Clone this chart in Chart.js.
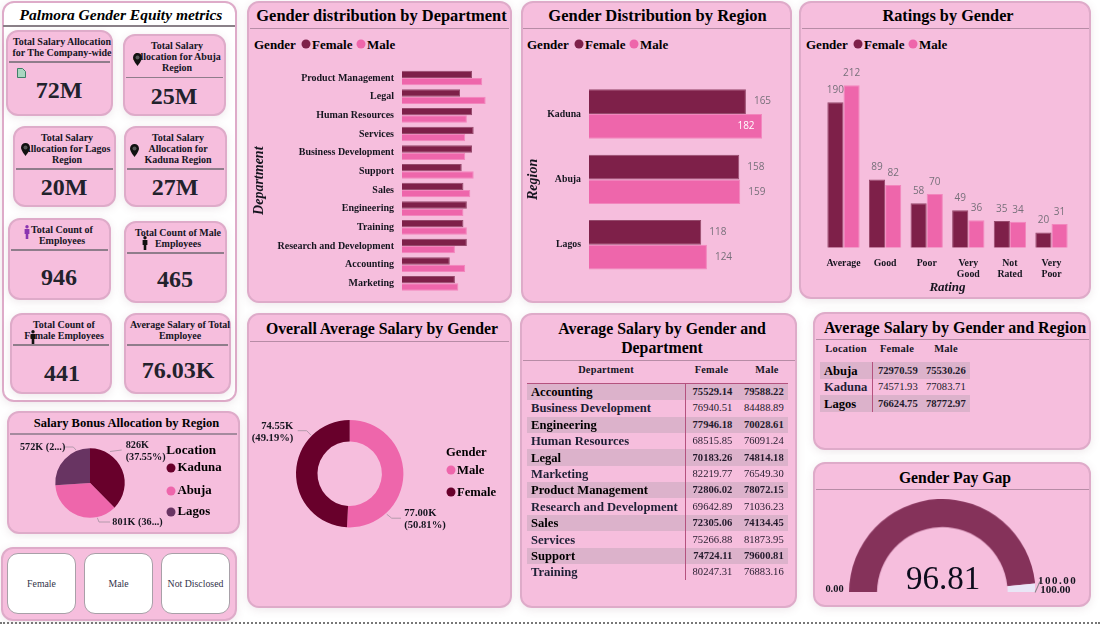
<!DOCTYPE html>
<html><head><meta charset="utf-8">
<script src="https://cdn.jsdelivr.net/npm/chart.js@4"></script>
<style>
html,body{margin:0;padding:0;background:#fff;width:1100px;height:624px;overflow:hidden}
body{font-family:"Liberation Serif",serif;position:relative;color:#15151f}
.a{position:absolute}
.t{position:absolute;transform:translate(-50%,-50%);white-space:nowrap;line-height:1;font-weight:bold}
.l{position:absolute;transform:translateY(-50%);white-space:nowrap;line-height:1;font-weight:bold}
.r{position:absolute;transform:translate(-100%,-50%);white-space:nowrap;line-height:1}
.p{position:absolute;box-sizing:border-box;background:#f6bedd;border:2px solid #deabc9;border-radius:12px;box-shadow:0 2px 8px rgba(120,80,100,.13)}
.h{position:absolute;height:1.5px;background:#b78ca6}
.d{position:absolute;border-radius:50%;transform:translate(-50%,-50%)}
canvas{position:absolute}
</style></head><body>
<script>
// ---------- data ----------
const departments=['Product Management','Legal','Human Resources','Services','Business Development','Support','Sales','Engineering','Training','Research and Development','Accounting','Marketing'];
const deptFemale=[41,34,41,42,41,35,36,38,36,38,28,31];
const deptMale=[47,49,38,37,37,42,40,36,38,31,37,33];
const regions=['Kaduna','Abuja','Lagos'];
const regionFemale=[165,158,118];
const regionMale=[182,159,124];
const ratings=['Average','Good','Poor',['Very','Good'],['Not','Rated'],['Very','Poor']];
const ratingFemale=[190,89,58,49,35,20];
const ratingMale=[212,82,70,36,34,31];
const bonusLocations=['Kaduna','Abuja','Lagos'];
const bonusValues=[826,801,572];
const bonusLabels=[['826K','(37.55%)'],['801K (36...)'],['572K (2...)']];
const avgGender=['Male','Female'];
const avgValues=[77.00,74.55];
const avgLabels=[['77.00K','(50.81%)'],['74.55K','(49.19%)']];
const tableDepts=['Accounting','Business Development','Engineering','Human Resources','Legal','Marketing','Product Management','Research and Development','Sales','Services','Support','Training'];
const tableFemale=['75529.14','76940.51','77946.18','68515.85','70183.26','82219.77','72806.02','69642.89','72305.06','75266.88','74724.11','80247.31'];
const tableMale=['79588.22','84488.89','70028.61','76091.24','74814.18','76549.30','78072.15','71036.23','74134.45','81873.95','79600.81','76883.16'];
const tableLocations=['Abuja','Kaduna','Lagos'];
const locFemale=['72970.59','74571.93','76624.75'];
const locMale=['75530.26','77083.71','78772.97'];
const gaugeValue=96.81;
const gaugeMax=100;
const cardTitles=[['Total Salary Allocation','for The Company-wide'],['Total Salary','Allocation for Abuja','Region'],['Total Salary','Allocation for Lagos','Region'],['Total Salary','Allocation for','Kaduna Region'],['Total Count of','Employees'],['Total Count of Male','Employees'],['Total Count of','Female Employees'],['Average Salary of Total','Employee']];
const cardValues=['72M','25M','20M','27M','946','465','441','76.03K'];
const slicerNames=['Female','Male','Not Disclosed'];

// ---------- colours ----------
const FEMALE='#7e2049',MALE='#ee66ab',DEEP='#68002b',PLUM='#683462',GAUGE='#85325a',GAUGEBG='#e9e6f6',GREY='#77707a',INK='#15151f';
const SERIF='"Liberation Serif",serif';

// ---------- DOM helpers ----------
const body=document.body;
function mk(cls,style,text){const e=document.createElement('div');e.className=cls;Object.assign(e.style,style);if(text!==undefined)e.textContent=text;body.appendChild(e);return e}
const px=n=>n+'px';
function panel(x,y,x2,y2,bg){const e=mk('p',{left:px(x),top:px(y),width:px(x2-x),height:px(y2-y)});if(bg)e.style.background=bg;return e}
function rule(x,x2,y,c){mk('h',{left:px(x),top:px(y),width:px(x2-x),background:c||'#b78ca6'})}
function ct(cx,cy,s,size,extra){return mk('t',Object.assign({left:px(cx),top:px(cy),fontSize:px(size)},extra||{}),s)}
function lt(x,cy,s,size,extra){return mk('l',Object.assign({left:px(x),top:px(cy),fontSize:px(size)},extra||{}),s)}
function rt(x,cy,s,size,extra){return mk('r',Object.assign({left:px(x),top:px(cy),fontSize:px(size)},extra||{}),s)}
function dot(x,y,c,d){mk('d',{left:px(x),top:px(y),width:px(d||9),height:px(d||9),background:c})}
function canvas(x,y,w,h){const c=document.createElement('canvas');c.style.cssText=`left:${x}px;top:${y}px;width:${w}px;height:${h}px`;
  const wrap=document.createElement('div');wrap.className='a';wrap.style.cssText=`left:${x}px;top:${y}px;width:${w}px;height:${h}px`;c.style.left='0';c.style.top='0';wrap.appendChild(c);body.appendChild(wrap);return c}
function pin(x,y){const e=document.createElement('div');e.className='a';e.style.cssText=`left:${x-4.5}px;top:${y-6}px;width:9px;height:13px`;e.innerHTML='<svg width="9" height="13" viewBox="0 0 9 13"><path d="M4.5 0C2 0 0 2 0 4.5 0 7.5 4.5 13 4.5 13S9 7.5 9 4.5C9 2 7 0 4.5 0z" fill="#111"/><circle cx="4.5" cy="4.5" r="2" fill="#555"/></svg>';body.appendChild(e)}
function person(x,y,c){const e=document.createElement('div');e.className='a';e.style.cssText=`left:${x-3}px;top:${y-7}px;width:6px;height:14px`;e.innerHTML=`<svg width="6" height="14" viewBox="0 0 6 14"><circle cx="3" cy="1.8" r="1.7" fill="${c}"/><path d="M.6 4h4.8v5H4.3v5H1.7V9H.6z" fill="${c}"/></svg>`;body.appendChild(e)}

// ---------- panels ----------
panel(2,1,237,402,'#fff');
ct(121,14.5,'Palmora Gender Equity metrics',15.5,{fontStyle:'italic',color:'#000'});
rule(3,235,25,'#8a8088');

// [x, y, x2, y2, ruleY, titleCx, titleY, valueCx, valueY]
const cardBoxes=[[6,30,113,116,61,62,42,59,90],[123,34,226,116,76.5,177,46,174,96],[13,126,116,207,168,67,138,64,187],[124,126,227,207,168,178,138,175,187],[8,218,111,300,249,62,230,59,277],[124,221,227,303,252,178,233,175,279],[10,313,112,394,344,64,325,62,373],[124,313,231,394,344,180,325,178,370]];
cardBoxes.forEach((b,i)=>{
  panel(b[0],b[1],b[2],b[3]);
  rule(b[0]+3,b[2]-3,b[4],'#8f7d8b');
  cardTitles[i].forEach((s,j)=>ct(b[5],b[6]+j*11,s,10));
  ct(b[7],b[8],cardValues[i],24,{color:'#22222c'});
});
pin(137,58);pin(25,148);pin(134.5,149);
person(27,232,'#8a35b0');person(145,243,'#111');person(32.5,337,'#111');
(function(){const e=document.createElement('div');e.className='a';e.style.cssText='left:17px;top:64px;width:9px;height:10px';e.innerHTML='<svg width="9" height="10" viewBox="0 0 9 10"><path d="M.5.5h5l3 3v6h-8z" fill="#a9d6c0" stroke="#3f7f68"/></svg>';body.appendChild(e)})();

panel(7,411,240,534);
ct(126.5,423,'Salary Bonus Allocation by Region',12.5,{color:'#000'});
rule(10,237,433,'#a58a9e');
panel(1,547,237,621);
[[7,76],[84,153],[161,230]].forEach((b,i)=>{
  mk('p',{left:px(b[0]),top:px(553),width:px(b[1]-b[0]),height:px(61),background:'#fff',border:'1px solid #a8a0a8',boxShadow:'none',borderRadius:'11px'});
  ct((b[0]+b[1])/2,584,slicerNames[i],9.8,{fontWeight:'normal',color:'#33334a'});
});
panel(247,1,512,303);
ct(381.5,16,'Gender distribution by Department',16.45,{color:'#000'});
rule(250,509,27.5);
panel(521,1,792,303);
ct(657.5,16,'Gender Distribution by Region',16.5,{color:'#000'});
rule(523,790,27.5);
panel(799,1,1091,299);
ct(948,16,'Ratings by Gender',16.3,{color:'#000'});
rule(802,1089,27.5);
panel(247,313,512,608);
ct(382,329,'Overall Average Salary by Gender',15.8,{color:'#000'});
rule(250,509,340.5);
panel(520,313,797,608);
ct(662,329,'Average Salary by Gender and',15.8,{color:'#000'});
ct(662,348,'Department',15.8,{color:'#000'});
rule(523,795,359.5);
panel(813,312,1091,450);
ct(955,327.5,'Average Salary by Gender and Region',16,{color:'#000'});
rule(816,1089,338.5);
panel(813,462,1091,607);
ct(955,477.5,'Gender Pay Gap',15.7,{color:'#000'});
rule(816,1089,488.5);

// dotted page edge
mk('a',{left:'0',top:'622px',width:'1100px',height:'0',borderTop:'2px dotted #777'});

// ---------- gender legends ----------
function genderLegend(x,c1,t1,c2,t2){lt(x,44,'Gender',13,{color:'#000'});dot(c1,44,FEMALE);lt(t1,44,'Female',13,{color:'#000'});dot(c2,44,MALE);lt(t2,44,'Male',13,{color:'#000'})}
genderLegend(254,305.7,312,361,367);
genderLegend(527,578.7,585,634,640);
genderLegend(806,857.7,864,913,919);

// ---------- charts ----------
Chart.defaults.animation=false;
Chart.defaults.responsive=true;
Chart.defaults.maintainAspectRatio=false;
Chart.defaults.plugins.legend.display=false;
Chart.defaults.plugins.tooltip.enabled=false;

const barLabels={id:'barLabels',afterDatasetsDraw(ch,a,o){
  if(!o.on)return;const c=ch.ctx;c.save();c.font='10px "Open Sans"';
  ch.data.datasets.forEach((ds,i)=>ch.getDatasetMeta(i).data.forEach((b,j)=>{
    const v=ds.data[j];c.fillStyle=GREY;
    if(o.horizontal){c.textBaseline='middle';
      if(v>=o.insideFrom){c.textAlign='right';c.fillStyle='#fff';c.fillText(v,b.x-7.5,b.y)}
      else{c.textAlign='left';c.fillText(v,b.x+8,b.y)}
    }else{c.textBaseline='middle';c.textAlign='center';c.fillText(v,b.x,b.y-12)}
  }));c.restore()}};

function dsets(f,m){return [{label:'Female',data:f,backgroundColor:FEMALE,borderColor:'#964a6c',borderWidth:1},{label:'Male',data:m,backgroundColor:MALE,borderColor:'#f286bd',borderWidth:1}]}

function hbar(box,plot,labels,f,m,max,title,catPct,labelOpt,tickSize){
  return new Chart(canvas(box[0],box[1],box[2],box[3]),{type:'bar',
    data:{labels,datasets:dsets(f,m)},
    options:{indexAxis:'y',
      layout:{padding:{left:0,top:plot[1]-box[1],bottom:box[1]+box[3]-plot[3],right:box[0]+box[2]-plot[2]}},
      datasets:{bar:{categoryPercentage:catPct,barPercentage:1}},
      plugins:{barLabels:labelOpt},
      scales:{x:{display:false,min:0,max},
        y:{afterFit(s){s.width=plot[0]-box[0]},grid:{display:false,drawTicks:false},border:{display:false},
          ticks:{padding:8,color:INK,autoSkip:false,font:{family:SERIF,weight:'bold',size:tickSize}},
          title:{display:true,text:title,color:INK,padding:0,font:{family:SERIF,weight:'bold',style:'italic',size:14}}}}},
    plugins:[barLabels]})
}
hbar([251,40,250,280],[402,68.7,402+50*1.707,292.7],departments,deptFemale,deptMale,50,'Department',0.786,{on:false},10);
hbar([525,60,260,240],[589,81.3,589+200*0.951,277.5],regions,regionFemale,regionMale,200,'Region',0.755,{on:true,horizontal:true,insideFrom:170},9.8);

(function(){const box=[801,60,288,236],plot=[822.7,63.9,1072.3,247.7];
new Chart(canvas(box[0],box[1],box[2],box[3]),{type:'bar',data:{labels:ratings,datasets:dsets(ratingFemale,ratingMale)},
  options:{layout:{padding:{left:plot[0]-box[0],right:box[0]+box[2]-plot[2],top:plot[1]-box[1],bottom:0}},
    datasets:{bar:{categoryPercentage:0.777,barPercentage:1}},
    plugins:{barLabels:{on:true,horizontal:false}},
    scales:{y:{display:false,min:0,max:240},
      x:{afterFit(s){s.height=box[1]+box[3]-plot[3]},grid:{display:false,drawTicks:false},border:{display:false},
        ticks:{padding:10,color:INK,autoSkip:false,maxRotation:0,font:{family:SERIF,weight:'bold',size:9.8,lineHeight:1.12}},
        title:{display:true,text:'Rating',color:INK,padding:{top:0,bottom:1},font:{family:SERIF,weight:'bold',style:'italic',size:13}}}}},
  plugins:[barLabels]})})();

// slice labels with leader lines; offsets are relative to the arc centre
const sliceLabels={id:'sliceLabels',afterDatasetsDraw(ch,a,o){
  const c=ch.ctx,arc=ch.getDatasetMeta(0).data[0];c.save();
  o.items.forEach((it,i)=>{
    c.strokeStyle='#b49aac';c.lineWidth=1;c.beginPath();
    it.line.forEach((p,k)=>{const x=arc.x+p[0],y=arc.y+p[1];k?c.lineTo(x,y):c.moveTo(x,y)});c.stroke();
    c.fillStyle=INK;c.font='bold '+o.size+'px '+SERIF;c.textAlign=it.align;c.textBaseline='middle';
    o.text[i].forEach((s,j)=>c.fillText(s,arc.x+it.at[0],arc.y+it.at[1]+j*o.gap));
  });c.restore()}};

function round(box,center,r,type,labels,data,colors,extra,pluginOpt){
  return new Chart(canvas(box[0],box[1],box[2],box[3]),{type,data:{labels,datasets:[{data,backgroundColor:colors,borderWidth:0}]},
    options:Object.assign({layout:{padding:{left:center[0]-r-box[0],right:box[0]+box[2]-center[0]-r,top:center[1]-r-box[1],bottom:box[1]+box[3]-center[1]-r}},
      plugins:{sliceLabels:pluginOpt}},extra),plugins:[sliceLabels]})
}
round([10,436,228,96],[90,483],34.7,'pie',bonusLocations,bonusValues,[DEEP,MALE,PLUM],{},
  {size:10.2,gap:12,text:bonusLabels,items:[
    {align:'left',at:[35.7,-38],line:[[20,-31.5],[31.7,-33]]},
    {align:'left',at:[22.3,39.5],line:[[7.3,34.7],[9,39],[20,39]]},
    {align:'left',at:[-70,-35.5],line:[[-26.7,-36],[-16.7,-36],[-14,-33]]}]});
round([250,345,260,255],[349.7,473.7],53.7,'doughnut',avgGender,avgValues,[MALE,DEEP],{cutout:'60%'},
  {size:10.6,gap:11.8,text:avgLabels,items:[
    {align:'left',at:[54.6,39.5],line:[[37,40.5],[42,44.5],[51.3,44.5]]},
    {align:'right',at:[-56.4,-47.7],line:[[-52,-43],[-43,-43],[-38.7,-38.5]]}]});

new Chart(canvas(849.4,498.9,185.6,92.8),{type:'doughnut',data:{labels:['Gender Pay Gap','Remaining'],datasets:[{data:[gaugeValue,gaugeMax-gaugeValue],backgroundColor:[GAUGE,GAUGEBG],borderWidth:0}]},
  options:{rotation:-90,circumference:180,cutout:'70%',layout:{padding:0}}});
ct(943,578,gaugeValue.toFixed(2),33,{fontWeight:'normal',color:'#0c0c1c'});
ct(834.5,588.5,'0.00',10.4,{});
lt(1038,580,gaugeMax.toFixed(2),11,{letterSpacing:'1.5px'});
lt(1040.3,588.5,gaugeMax.toFixed(2),11,{});
mk('a',{left:'1036.5px',top:'581px',width:'1px',height:'12px',background:'#8a8088',transform:'rotate(24deg)'});

// legends of the round charts
lt(166.3,450,'Location',13.2,{color:'#000'});
bonusLocations.forEach((s,i)=>{const y=[468.3,490.7,512.3][i];dot(171,y,[DEEP,MALE,PLUM][i]);lt(177.5,y-1,s,12.8,{color:'#000'})});
lt(446,452,'Gender',12.6,{color:'#000'});
avgGender.forEach((s,i)=>{const y=[470.3,492.3][i];dot(450.7,y,[MALE,DEEP][i]);lt(457,y,s,12.6,{color:'#000'})});

// ---------- tables ----------
function table(o){
  o.heads.forEach((h,i)=>ct(o.headX[i],o.headY,h,o.headSize,{letterSpacing:'.25px'}));
  rule(o.x,o.x2,o.top-.5,'#b5527f');
  o.names.forEach((n,i)=>{const y=o.top+i*o.pitch;
    if(i%2==0)mk('a',{left:px(o.x),top:px(y),width:px(o.x2-o.x),height:px(o.pitch),background:'#dcb2cb'});
    lt(o.nameX,y+o.pitch/2,n,o.nameSize,{fontWeight:i%2==0?'bold':'600',color:i%2==0?'#000':'#1e2036'});
    rt(o.fx,y+o.pitch/2,o.f[i],o.numSize,{fontWeight:i%2==0?'bold':'normal',color:'#231a2c'});
    rt(o.mx,y+o.pitch/2,o.m[i],o.numSize,{fontWeight:i%2==0?'bold':'normal',color:'#231a2c'});
  });
  mk('a',{left:px(o.vx),top:px(o.top),width:'1px',height:px(o.names.length*o.pitch),background:'#b5527f'});
}
table({heads:['Department','Female','Male'],headX:[606,711.5,767],headY:370,headSize:10.3,x:527,x2:788,top:383.7,pitch:16.4,vx:685,
  names:tableDepts,f:tableFemale,m:tableMale,nameX:531,nameSize:12.6,fx:732.3,mx:783.7,numSize:10.6});
table({heads:['Location','Female','Male'],headX:[846,897,946],headY:348.7,headSize:10.5,x:820,x2:970,top:362.3,pitch:16.55,vx:872,
  names:tableLocations,f:locFemale,m:locMale,nameX:824,nameSize:12.6,fx:917.7,mx:965.7,numSize:10.6});
</script>
</body></html>
